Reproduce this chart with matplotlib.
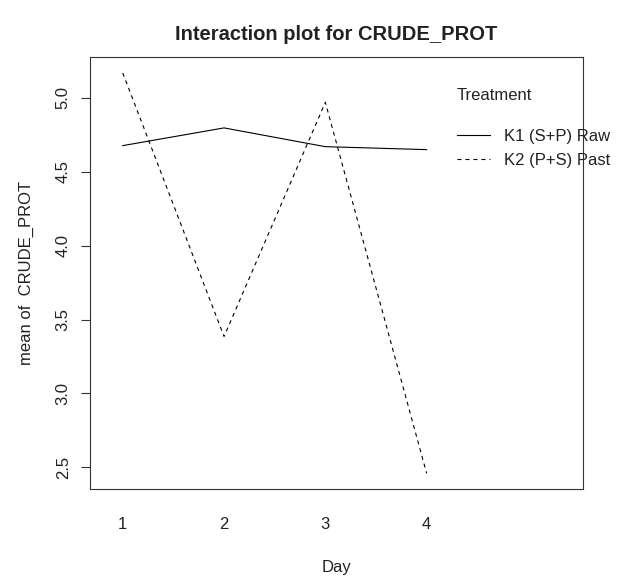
import matplotlib
matplotlib.use("Agg")
import matplotlib.pyplot as plt

# --- Data (means) ---
days = [1, 2, 3, 4]
day_labels = ["1", "2", "3", "4"]
k1_raw = [4.677, 4.797, 4.670, 4.650]
k2_past = [5.169, 3.385, 4.970, 2.459]
treatments = ["K1 (S+P) Raw", "K2 (P+S) Past"]
y_ticks = [2.5, 3.0, 3.5, 4.0, 4.5, 5.0]

plt.rcParams["font.family"] = ["Liberation Sans", "DejaVu Sans"]
plt.rcParams["font.size"] = 12
plt.rcParams["text.color"] = "#222222"
plt.rcParams["axes.labelcolor"] = "#222222"
plt.rcParams["xtick.labelcolor"] = "#222222"
plt.rcParams["ytick.labelcolor"] = "#222222"

fig = plt.figure(figsize=(6.33, 5.78), dpi=100)
ax = fig.add_axes([0.1414, 0.1535, 0.7795, 0.7479])

# --- Lines ---
ax.plot(days, k1_raw, color="black", lw=0.8, label=treatments[0])
ax.plot(days, k2_past, color="black", lw=0.8, linestyle=(0, (3.6, 3.6)),
        label=treatments[1])

# --- Axes ---
ax.set_xlim(0.672, 5.543)
ax.set_ylim(2.351, 5.277)
ax.set_xticks(days)
ax.set_xticklabels(day_labels)
ax.set_yticks(y_ticks)
ax.set_yticklabels([f"{v:.1f}" for v in y_ticks], rotation=90, va="center")
ax.tick_params(axis="x", length=0, pad=20)
ax.tick_params(axis="y", length=6.5, width=0.8, pad=7, color="#333333")
for s in ax.spines.values():
    s.set_color("#333333")
    s.set_linewidth(0.8)

ax.set_xlabel("Day", labelpad=20)
ax.set_ylabel("mean of  CRUDE_PROT", labelpad=16)
ax.set_title("Interaction plot for CRUDE_PROT", fontsize=14.5, fontweight="bold",
             pad=12.5)

# --- Legend ---
ax.text(0.745, 0.912, "Treatment", transform=ax.transAxes, ha="left",
        va="center")
ax.legend(loc="upper left", bbox_to_anchor=(0.745, 0.834), frameon=False,
          borderpad=0, borderaxespad=0, handlelength=1.95, handletextpad=0.85,
          labelspacing=0.55)

plt.savefig("out.png", dpi=100)
